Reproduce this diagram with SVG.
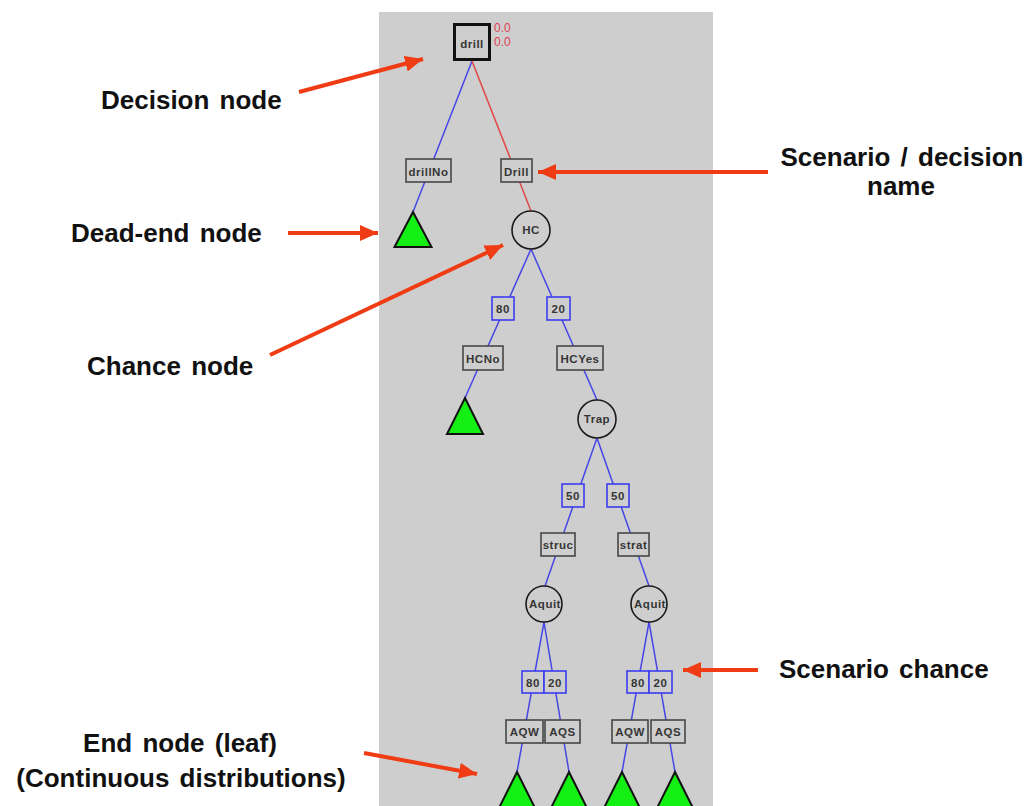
<svg xmlns="http://www.w3.org/2000/svg" width="1031" height="806" viewBox="0 0 1031 806">
  <defs>
    <marker id="arrowhead" markerUnits="userSpaceOnUse" markerWidth="20" markerHeight="16" refX="18" refY="8" orient="auto">
      <path d="M0,0 L18,8 L0,16 Z" fill="#f03c14"/>
    </marker>
  </defs>
  <style>
    .callout { font-family: "Liberation Sans", Arial, sans-serif; font-weight: bold; font-size: 26px; fill: #111; word-spacing: 3px; }
    .pointer { stroke: #f03c14; stroke-width: 4; fill: none; marker-end: url(#arrowhead); }
    .edge-blue { stroke: #4646e6; stroke-width: 1.5; fill: none; }
    .edge-red { stroke: #e04848; stroke-width: 1.5; fill: none; }
    .label-box { fill: #cecece; stroke: #474747; stroke-width: 1.6; }
    .prob-box { fill: #cecece; stroke: #3c3cf0; stroke-width: 1.6; }
    .chance { fill: #cecece; stroke: #1a1a1a; stroke-width: 1.6; }
    .leaf { fill: #14f014; stroke: #111; stroke-width: 2; stroke-linejoin: miter; }
    .t { font-family: "Liberation Sans", Arial, sans-serif; font-weight: bold; font-size: 11.5px; fill: #363636; text-anchor: middle; letter-spacing: 0.5px; }
    .val { font-family: "Liberation Sans", Arial, sans-serif; font-size: 12px; fill: #e04050; }
  </style>

  <!-- tree panel background -->
  <rect x="379" y="12" width="334" height="794" fill="#cecece"/>

  <!-- connectors between tree nodes -->
  <g id="connectors">
    <line class="edge-blue" x1="472" y1="61" x2="413" y2="212"/>
    <line class="edge-red" x1="472" y1="61" x2="531" y2="211"/>
    <line class="edge-blue" x1="531" y1="249" x2="465" y2="398"/>
    <line class="edge-blue" x1="531" y1="249" x2="597" y2="400"/>
    <line class="edge-blue" x1="597" y1="438" x2="545" y2="586"/>
    <line class="edge-blue" x1="597" y1="438" x2="649" y2="586"/>
    <line class="edge-blue" x1="544" y1="622" x2="517" y2="772"/>
    <line class="edge-blue" x1="544" y1="622" x2="569" y2="772"/>
    <line class="edge-blue" x1="649" y1="622" x2="622" y2="772"/>
    <line class="edge-blue" x1="649" y1="622" x2="675" y2="772"/>
  </g>

  <!-- decision node -->
  <g id="node-drill">
    <rect x="454.5" y="24.5" width="35" height="35" fill="#cecece" stroke="#111" stroke-width="3"/>
    <text class="t" x="472" y="48">drill</text>
    <text class="val" x="494" y="32">0.0</text>
    <text class="val" x="494" y="46">0.0</text>
  </g>

  <g id="node-drillNo">
    <rect class="label-box" x="406" y="159" width="45" height="23"/>
    <text class="t" x="428.5" y="175.5">drillNo</text>
  </g>
  <g id="node-Drill">
    <rect class="label-box" x="501" y="159" width="31" height="23"/>
    <text class="t" x="516.5" y="175.5">Drill</text>
  </g>
  <g id="leaf-drillNo">
    <polygon class="leaf" points="413,212 431.5,247 394.5,247"/>
  </g>

  <g id="node-HC">
    <circle class="chance" cx="531" cy="230" r="19"/>
    <text class="t" x="531" y="234">HC</text>
  </g>
  <g id="prob-HC-80">
    <rect class="prob-box" x="492" y="297" width="22" height="23"/>
    <text class="t" x="503" y="313">80</text>
  </g>
  <g id="prob-HC-20">
    <rect class="prob-box" x="547" y="297" width="23" height="23"/>
    <text class="t" x="558.5" y="313">20</text>
  </g>
  <g id="node-HCNo">
    <rect class="label-box" x="463" y="346" width="40" height="24"/>
    <text class="t" x="483" y="362.5">HCNo</text>
  </g>
  <g id="node-HCYes">
    <rect class="label-box" x="557" y="346" width="46" height="24"/>
    <text class="t" x="580" y="362.5">HCYes</text>
  </g>
  <g id="leaf-HCNo">
    <polygon class="leaf" points="465,398 483,434 447,434"/>
  </g>

  <g id="node-Trap">
    <circle class="chance" cx="597" cy="419" r="19"/>
    <text class="t" x="597" y="423">Trap</text>
  </g>
  <g id="prob-Trap-50a">
    <rect class="prob-box" x="562" y="484" width="22" height="23"/>
    <text class="t" x="573" y="500">50</text>
  </g>
  <g id="prob-Trap-50b">
    <rect class="prob-box" x="607" y="484" width="22" height="23"/>
    <text class="t" x="618" y="500">50</text>
  </g>
  <g id="node-struc">
    <rect class="label-box" x="541" y="533" width="34" height="23"/>
    <text class="t" x="558" y="549">struc</text>
  </g>
  <g id="node-strat">
    <rect class="label-box" x="618" y="533" width="31" height="23"/>
    <text class="t" x="633.5" y="549">strat</text>
  </g>

  <g id="node-Aquit-left">
    <circle class="chance" cx="544" cy="604" r="18"/>
    <text class="t" x="545" y="608">Aquit</text>
  </g>
  <g id="node-Aquit-right">
    <circle class="chance" cx="649" cy="604" r="18"/>
    <text class="t" x="650" y="608">Aquit</text>
  </g>

  <g id="prob-Aquit-left-80">
    <rect class="prob-box" x="522" y="671" width="22" height="22"/>
    <text class="t" x="533" y="686.5">80</text>
  </g>
  <g id="prob-Aquit-left-20">
    <rect class="prob-box" x="544" y="671" width="22" height="22"/>
    <text class="t" x="555" y="686.5">20</text>
  </g>
  <g id="prob-Aquit-right-80">
    <rect class="prob-box" x="627" y="671" width="22" height="22"/>
    <text class="t" x="638" y="686.5">80</text>
  </g>
  <g id="prob-Aquit-right-20">
    <rect class="prob-box" x="649" y="671" width="23" height="22"/>
    <text class="t" x="660.5" y="686.5">20</text>
  </g>

  <g id="node-AQW-left">
    <rect class="label-box" x="506" y="720" width="37" height="23"/>
    <text class="t" x="524.5" y="736">AQW</text>
  </g>
  <g id="node-AQS-left">
    <rect class="label-box" x="545" y="720" width="35" height="23"/>
    <text class="t" x="562.5" y="736">AQS</text>
  </g>
  <g id="node-AQW-right">
    <rect class="label-box" x="612" y="720" width="36" height="23"/>
    <text class="t" x="630" y="736">AQW</text>
  </g>
  <g id="node-AQS-right">
    <rect class="label-box" x="651" y="720" width="34" height="23"/>
    <text class="t" x="668" y="736">AQS</text>
  </g>

  <g id="leaves-bottom">
    <polygon class="leaf" points="517,772 535,808 499,808"/>
    <polygon class="leaf" points="569,772 587,808 551,808"/>
    <polygon class="leaf" points="622,772 640,808 604,808"/>
    <polygon class="leaf" points="675,772 693,808 657,808"/>
  </g>

  <!-- callout labels and pointers -->
  <g id="callouts">
    <text class="callout" x="101" y="109">Decision node</text>
    <line class="pointer" x1="299" y1="92" x2="423" y2="59"/>

    <text class="callout" x="71" y="242">Dead-end node</text>
    <line class="pointer" x1="288" y1="233" x2="378" y2="233"/>

    <text class="callout" x="87" y="375">Chance node</text>
    <line class="pointer" x1="270" y1="355" x2="503" y2="245"/>

    <text class="callout" x="902" y="166" text-anchor="middle" word-spacing="0">Scenario / decision</text>
    <text class="callout" x="901" y="195" text-anchor="middle">name</text>
    <line class="pointer" x1="768" y1="172" x2="538" y2="172"/>

    <text class="callout" x="779" y="678">Scenario chance</text>
    <line class="pointer" x1="758" y1="670" x2="683" y2="670"/>

    <text class="callout" x="180" y="752" text-anchor="middle">End node (leaf)</text>
    <text class="callout" x="181" y="787" text-anchor="middle">(Continuous distributions)</text>
    <line class="pointer" x1="364" y1="753" x2="477" y2="774"/>
  </g>
</svg>
